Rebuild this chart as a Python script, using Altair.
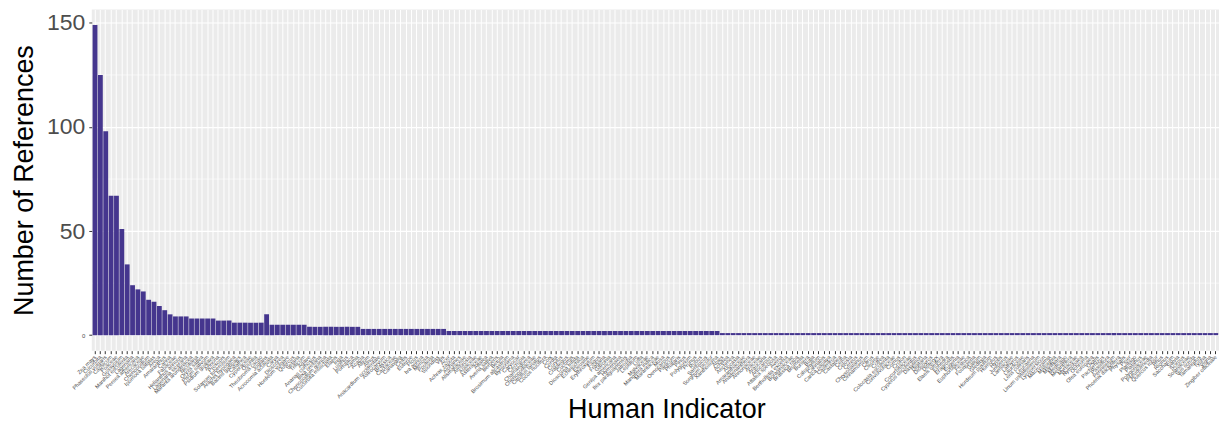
import altair as alt
import pandas as pd

names = [
    "Zea mays", "Cucurbita", "Phaseolus vulgaris", "Capsicum", "Poaceae",
    "Gossypium", "Manihot esculenta", "Lagenaria", "Persea americana", "Arecaceae",
    "Chenopodium", "Ipomoea batatas", "Areca", "Amaranthus", "Canna",
    # 9
    "Fabaceae", "Helianthus annuus", "Lagenaria siceraria",
    # 8
    "Maranta arundinacea", "Nicotiana", "Oryza sativa", "Pisum sativum", "Psidium guajava",
    # 7
    "Annona", "Prosopis", "Solanum tuberosum",
    # 6
    "Arachis hypogaea", "Bactris gasipaes", "Calathea", "Cyperaceae", "Opuntia", "Theobroma cacao",
    # 10
    "Juglans",
    # 5
    "Acrocomia aculeata", "Carya", "Dioscorea", "Hordeum vulgare", "Quercus", "Setaria", "Triticum",
    # 4
    "Agave", "Ananas comosus", "Bixa orellana", "Chenopodium quinoa", "Cucurbita moschata",
    "Elaeis", "Inga", "Lupinus", "Portulaca", "Zamia",
    # 3
    "Acacia", "Allium", "Alnus", "Anacardium occidentale", "Astrocaryum", "Brassica",
    "Cactaceae", "Canavalia", "Celtis", "Euterpe", "Ficus", "Iva annua", "Mimosa",
    "Pouteria", "Spondias", "Vitis",
    # 2
    "Acer", "Achras zapota", "Aiphanes", "Alismataceae", "Ambrosia", "Apiaceae",
    "Asteraceae", "Attalea", "Avena sativa", "Berberis", "Betula", "Brosimum alicastrum",
    "Byrsonima", "Caryocar", "Cecropia", "Chamaedorea", "Chenopodiaceae",
    "Citrullus lanatus", "Cocos nucifera", "Coix", "Cordia", "Corylus", "Crataegus",
    "Cucumis", "Dioscorea trifida", "Echinochloa", "Eleusine", "Erythroxylum", "Fagus",
    "Fragaria", "Garcinia", "Genipa americana", "Hymenaea", "Ilex paraguariensis",
    "Jatropha", "Lepidium", "Luffa", "Malvaceae", "Mangifera indica", "Marantaceae",
    "Musa", "Oenocarpus", "Panicum", "Phalaris", "Pinus", "Polygonum", "Prunus",
    "Rubus", "Sambucus", "Sorghum bicolor", "Xanthosoma",
    # 1
    "Abies", "Achillea", "Aechmea", "Alocasia", "Amaranthaceae", "Anadenanthera",
    "Annonaceae", "Araceae", "Araucaria", "Artocarpus", "Attalea speciosa", "Avena",
    "Bertholletia excelsa", "Boraginaceae", "Brassica rapa", "Bromelia", "Bursera",
    "Butia", "Calophyllum", "Cannabis", "Carica papaya", "Casimiroa", "Castanea",
    "Ceiba", "Celosia", "Cereus", "Chrysobalanus", "Cinnamomum", "Citrus", "Cleome",
    "Coffea", "Colocasia esculenta", "Convolvulaceae", "Cornus", "Croton",
    "Cucurbitaceae", "Cyperus esculentus", "Dasylirion", "Digitaria", "Diospyros",
    "Dipteryx", "Elaeis oleifera", "Ephedra", "Eragrostis", "Eugenia", "Euphorbiaceae",
    "Festuca", "Fouquieria", "Galium", "Gleditsia", "Hordeum pusillum", "Humulus",
    "Hyptis", "Juniperus", "Lamiaceae", "Lathyrus", "Lauraceae", "Lens culinaris",
    "Leucaena", "Linum usitatissimum", "Lycopersicon", "Macrozamia", "Malpighia",
    "Manilkara", "Medicago", "Melanthera", "Myrtaceae", "Nymphaea", "Ochroma",
    "Olea europaea", "Oxalis", "Pachyrhizus", "Passiflora", "Pennisetum",
    "Phoenix dactylifera", "Physalis", "Piper", "Plantago", "Platanus", "Polygonaceae",
    "Pseudolmedia", "Quercus robur", "Rhus", "Ricinus", "Saccharum", "Salvia",
    "Scirpus", "Solanaceae", "Sus scrofa", "Tamarindus", "Typha", "Vigna",
    "Zingiber officinale",
]

counts = [
    149, 125, 98, 67, 67, 51, 34, 24, 22, 21, 17, 16, 14, 12, 10,
    9, 9, 9,
    8, 8, 8, 8, 8,
    7, 7, 7,
    6, 6, 6, 6, 6, 6,
    10,
    5, 5, 5, 5, 5, 5, 5,
    4, 4, 4, 4, 4, 4, 4, 4, 4, 4,
    3, 3, 3, 3, 3, 3, 3, 3, 3, 3, 3, 3, 3, 3, 3, 3,
    2, 2, 2, 2, 2, 2, 2, 2, 2, 2, 2, 2, 2, 2, 2, 2, 2,
    2, 2, 2, 2, 2, 2, 2, 2, 2, 2, 2, 2, 2, 2, 2, 2, 2,
    2, 2, 2, 2, 2, 2, 2, 2, 2, 2, 2, 2, 2, 2, 2, 2, 2,
    1, 1, 1, 1, 1, 1, 1, 1, 1, 1, 1, 1, 1, 1, 1, 1, 1, 1, 1, 1, 1, 1, 1, 1, 1, 1, 1, 1, 1, 1, 1,
    1, 1, 1, 1, 1, 1, 1, 1, 1, 1, 1, 1, 1, 1, 1, 1, 1, 1, 1, 1, 1, 1, 1, 1, 1, 1, 1, 1, 1, 1, 1,
    1, 1, 1, 1, 1, 1, 1, 1, 1, 1, 1, 1, 1, 1, 1, 1, 1, 1, 1, 1, 1, 1, 1, 1, 1, 1, 1, 1, 1, 1, 1,
]

y_ticks = [0, 50, 100, 150]
minor_grid = [25, 75, 125]
y_domain = [-7.45, 156.45]

FONT = "Liberation Sans"

df = pd.DataFrame({"indicator": names, "refs": counts})
yscale = alt.Scale(domain=y_domain, nice=False, zero=False)

yaxis = alt.Axis(
    values=y_ticks,
    grid=True, gridColor="white", gridWidth=1.2,
    domain=False,
    tickColor="#333333", tickSize=3,
    labelColor="#4D4D4D", labelFont=FONT,
    labelFontSize={"condition": {"test": "datum.value == 0", "value": 6}, "value": 23},
    labelPadding=4,
    titleFont=FONT, titleFontSize=27, titleColor="black",
    titleFontWeight="normal",
    titleAngle=270, titleX=-59, titleY=171,
    titleBaseline="alphabetic", titleAlign="center",
)

bars = alt.Chart(df).mark_bar(color="#45368E").encode(
    x=alt.X(
        "indicator:N",
        sort=names,
        scale=alt.Scale(paddingInner=0.1, paddingOuter=0.15),
        title="Human Indicator",
        axis=alt.Axis(
            bandPosition=0.5,
            grid=True, gridColor="white", gridWidth=1.0,
            domain=False,
            ticks=True, tickColor="#333333", tickSize=3,
            labelAngle=315, labelAlign="right", labelBaseline="middle",
            labelFontSize=5.5, labelColor="#4D4D4D", labelFont=FONT,
            labelOverlap=False, labelPadding=2, labelLimit=0,
            titleFont=FONT, titleFontSize=27, titleColor="black",
            titleFontWeight="normal",
            titleX=576, titleY=67, titleBaseline="alphabetic", titleAlign="center",
        ),
    ),
    y=alt.Y("refs:Q", scale=yscale, title="Number of References", axis=yaxis),
    y2=alt.datum(0),
)

minor = alt.Chart(pd.DataFrame({"v": minor_grid})).mark_rule(
    color="white", strokeWidth=0.6
).encode(y=alt.Y("v:Q", scale=yscale, title="Number of References", axis=yaxis))

chart = alt.layer(minor, bars).properties(
    width=1130,
    height=342,
    autosize=alt.AutoSizeParams(type="none"),
    padding={"left": 84, "top": 1, "right": 0, "bottom": 76},
    background="white",
).configure_view(fill="#EBEBEB", strokeWidth=0)

chart.save("out.html", embed_options={"renderer": "svg", "actions": False})
